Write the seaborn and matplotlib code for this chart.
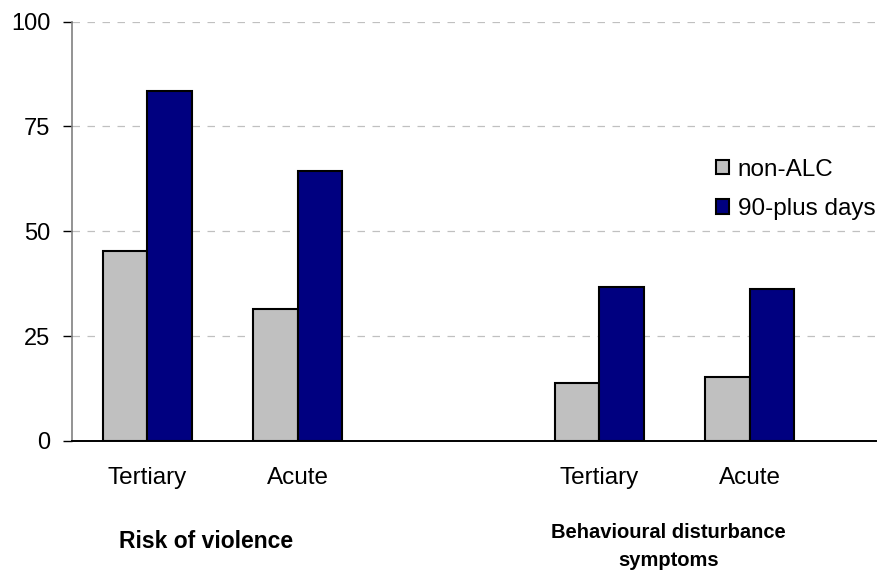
import matplotlib
matplotlib.use("Agg")
import matplotlib.pyplot as plt
import matplotlib.transforms as mtransforms
import pandas as pd
import seaborn as sns

# Percentages by service setting and patient group
slots = ["rv_tertiary", "rv_acute", "gap", "bd_tertiary", "bd_acute"]
slot_labels = ["Tertiary", "Acute", "", "Tertiary", "Acute"]
series = ["non-ALC", "90-plus days"]
non_alc = [45.2, 31.4, 13.8, 15.3]
ninety_plus = [83.5, 64.4, 36.7, 36.3]
bar_slots = ["rv_tertiary", "rv_acute", "bd_tertiary", "bd_acute"]
domains = ["Risk of violence", "Behavioural disturbance\nsymptoms"]
y_ticks = [0, 25, 50, 75, 100]

df = pd.DataFrame({
    "slot": bar_slots * 2,
    "group": [series[0]] * 4 + [series[1]] * 4,
    "value": non_alc + ninety_plus,
})

sns.set_theme(style="white")
plt.rcParams["font.family"] = ["Liberation Sans", "DejaVu Sans"]
plt.rcParams["text.color"] = "black"

fig = plt.figure(figsize=(8.78, 5.71), dpi=100)
ax = fig.add_axes([0.082, 0.228, 0.916, 0.734])

ax.set_axisbelow(True)
for t in y_ticks[1:]:
    ax.axhline(t, color="#c0c0c0", linestyle=(0, (6, 6)), linewidth=0.9, zorder=0)

sns.barplot(
    data=df, x="slot", y="value", hue="group", order=slots, hue_order=series,
    palette=["#c0c0c0", "#000080"], width=0.59, gap=0, edgecolor="black",
    linewidth=1.5, saturation=1, ax=ax, errorbar=None,
)

ax.set_ylim(0, 100)
ax.set_xlim(-0.5, 4.84)
ax.set_yticks(y_ticks)
ax.set_yticklabels([str(t) for t in y_ticks], fontsize=17, color="black")
ax.set_xticks(range(len(slots)))
ax.set_xticklabels(slot_labels, fontsize=17.5, color="black")
ax.tick_params(axis="y", which="both", left=True, length=6.5, width=1,
               color="black", pad=9)
ax.tick_params(axis="x", length=0, pad=19)
ax.set_xlabel("")
ax.set_ylabel("")

for side in ["top", "right"]:
    ax.spines[side].set_visible(False)
ax.spines["left"].set_color("#808080")
ax.spines["left"].set_linewidth(1.2)
ax.spines["bottom"].set_color("black")
ax.spines["bottom"].set_linewidth(1.4)

trans = mtransforms.blended_transform_factory(ax.transData, ax.transAxes)
ax.text(0.39, -0.24, domains[0], transform=trans, ha="center", va="center",
        fontsize=16.5, fontweight="bold", color="black")
ax.text(3.46, -0.197, domains[1], transform=trans, ha="center", va="top",
        fontsize=14.5, fontweight="bold", linespacing=1.6, color="black")

leg = ax.legend(loc="upper left", bbox_to_anchor=(0.8155, 0.722),
                bbox_transform=fig.transFigure, frameon=False,
                fontsize=17.5, handlelength=0.53, handleheight=0.53,
                handletextpad=0.37, labelspacing=0.72, borderaxespad=0,
                borderpad=0)
for h in leg.legend_handles:
    h.set_edgecolor("black")
    h.set_linewidth(1.5)
for txt in leg.get_texts():
    txt.set_color("black")

fig.savefig("out.png", dpi=100)
